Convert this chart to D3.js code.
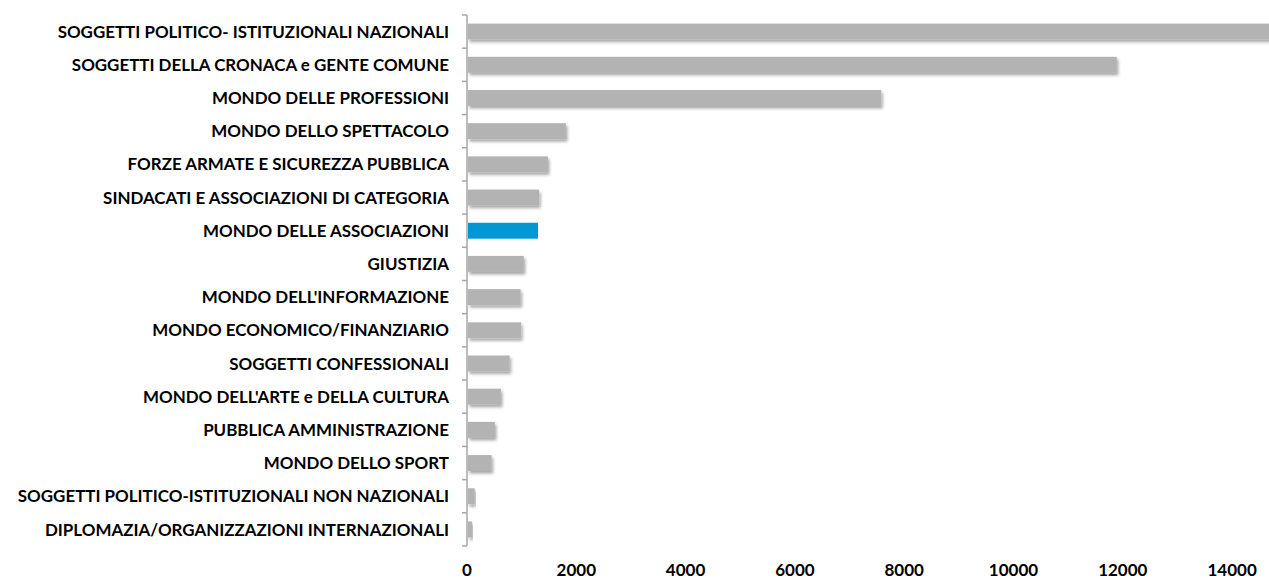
<!DOCTYPE html>
<html>
<head>
<meta charset="utf-8">
<script src="https://cdn.jsdelivr.net/npm/d3@7"></script>
<style>
  html, body { margin: 0; padding: 0; background: #fff; }
  svg { display: block; }
  text { font-family: Lato, "Open Sans", sans-serif; font-weight: 700; fill: #000; }
</style>
</head>
<body>
<svg id="chart" width="1269" height="580"></svg>
<script>
// Categories, top to bottom
const categories = [
  "SOGGETTI POLITICO- ISTITUZIONALI NAZIONALI",
  "SOGGETTI DELLA CRONACA e GENTE COMUNE",
  "MONDO DELLE PROFESSIONI",
  "MONDO DELLO SPETTACOLO",
  "FORZE ARMATE E SICUREZZA PUBBLICA",
  "SINDACATI E ASSOCIAZIONI DI CATEGORIA",
  "MONDO DELLE ASSOCIAZIONI",
  "GIUSTIZIA",
  "MONDO DELL'INFORMAZIONE",
  "MONDO ECONOMICO/FINANZIARIO",
  "SOGGETTI CONFESSIONALI",
  "MONDO DELL'ARTE e DELLA CULTURA",
  "PUBBLICA AMMINISTRAZIONE",
  "MONDO DELLO SPORT",
  "SOGGETTI POLITICO-ISTITUZIONALI NON NAZIONALI",
  "DIPLOMAZIA/ORGANIZZAZIONI INTERNAZIONALI"
];
const values = [14800, 11890, 7580, 1810, 1480, 1320, 1300, 1040, 980, 990, 780, 620, 510, 450, 140, 90];
const highlighted = ["MONDO DELLE ASSOCIAZIONI"];
const xTicks = [0, 2000, 4000, 6000, 8000, 10000, 12000, 14000];

const svg = d3.select("#chart");
const axisX = 467, plotTop = 15, plotBottom = 546;

const x = d3.scaleLinear().domain([0, 2000]).range([axisX, axisX + 109.3]);
const y = d3.scaleBand().domain(categories).range([plotTop, plotBottom]).paddingInner(0.52).paddingOuter(0.26);
const yTicksScale = d3.scaleBand().domain(categories).range([plotTop, plotBottom]);

// soft drop shadow under the gray bars
const defs = svg.append("defs");
const f = defs.append("filter").attr("id", "shadow").attr("x", "-5%").attr("y", "-50%").attr("width", "120%").attr("height", "220%");
f.append("feDropShadow").attr("dx", 1.5).attr("dy", 2.5).attr("stdDeviation", 1.6)
  .attr("flood-color", "#000").attr("flood-opacity", 0.35);

// bars
svg.append("g").selectAll("rect")
  .data(categories.map((c, i) => ({ c, v: values[i] })))
  .join("rect")
  .attr("x", x(0) + 1)
  .attr("y", d => y(d.c))
  .attr("width", d => x(d.v) - x(0) - 1)
  .attr("height", y.bandwidth())
  .attr("fill", d => highlighted.includes(d.c) ? "#0098d4" : "#b3b3b3")
  .attr("filter", d => highlighted.includes(d.c) ? null : "url(#shadow)");

// vertical axis line with ticks between categories
const axisG = svg.append("g");
axisG.append("line")
  .attr("x1", axisX).attr("x2", axisX).attr("y1", plotTop).attr("y2", plotBottom)
  .attr("stroke", "#a6a6a6").attr("stroke-width", 1.5);
const boundaries = categories.map(c => yTicksScale(c)).concat([plotBottom]);
axisG.selectAll("line.tick").data(boundaries).join("line")
  .attr("class", "tick")
  .attr("x1", axisX - 5).attr("x2", axisX).attr("y1", d => d).attr("y2", d => d)
  .attr("stroke", "#a6a6a6").attr("stroke-width", 1.5);

// category labels
const labels = svg.append("g").selectAll("text")
  .data(categories).join("text")
  .attr("x", 449)
  .attr("y", c => y(c) + y.bandwidth() / 2)
  .attr("dy", "0.36em")
  .attr("text-anchor", "end")
  .style("font-size", "15px")
  .text(c => c);

// size the label font so the first label spans about 392px
const firstWidth = labels.nodes()[0].getComputedTextLength();
const fs = 15 * 392 / firstWidth;
labels.style("font-size", fs.toFixed(2) + "px");

// value axis labels
svg.append("g").selectAll("text")
  .data(xTicks).join("text")
  .attr("x", d => x(d))
  .attr("y", 576)
  .attr("text-anchor", "middle")
  .style("font-size", "17px")
  .text(d => d);
</script>
</body>
</html>
